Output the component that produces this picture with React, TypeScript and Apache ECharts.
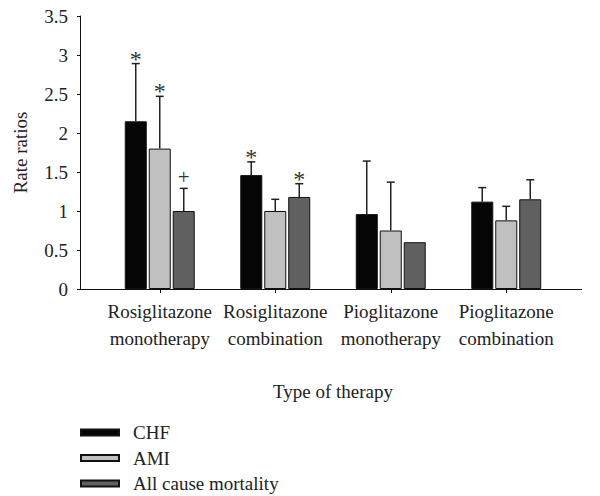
import React, { useEffect, useRef } from "react";
import * as echarts from "echarts";

const categories = [
  "Rosiglitazone\nmonotherapy",
  "Rosiglitazone\ncombination",
  "Pioglitazone\nmonotherapy",
  "Pioglitazone\ncombination",
];
const seriesNames = ["CHF", "AMI", "All cause mortality"];
const chf = [2.15, 1.46, 0.96, 1.12];
const ami = [1.8, 1.0, 0.75, 0.88];
const allCause = [1.0, 1.18, 0.6, 1.15];
const chfUpper = [2.89, 1.63, 1.64, 1.3];
const amiUpper = [2.47, 1.15, 1.37, 1.06];
const allUpper: (number | null)[] = [1.29, 1.35, null, 1.4];
const chfSig = ["*", "*", "", ""];
const amiSig = ["*", "", "", ""];
const allSig = ["+", "*", "", ""];
const yMin = 0;
const yMax = 3.5;
const yInterval = 0.5;

const colors = ["#050505", "#c0c0c0", "#5f605f"];
const FONT = "Liberation Serif";
const FS = 19;

export default function App() {
  const ref = useRef<HTMLDivElement>(null);
  useEffect(() => {
    if (!ref.current) return;
    const chart = echarts.init(ref.current, null, { renderer: "svg" });
    const values = [chf, ami, allCause];
    const uppers = [chfUpper, amiUpper, allUpper];
    const sigs = [chfSig, amiSig, allSig];
    const errItems: { value: number[]; sig: string }[] = [];
    for (let s = 0; s < 3; s++) {
      for (let c = 0; c < categories.length; c++) {
        const up = uppers[s][c];
        if (up == null) continue;
        errItems.push({ value: [c, s, up as number, values[s][c]], sig: sigs[s][c] });
      }
    }
    const barSeries = seriesNames.map((name, i) => ({
      name,
      type: "bar",
      data: values[i],
      barWidth: 22,
      barGap: "9%",
      itemStyle: { color: colors[i], borderColor: "#111", borderWidth: 1 },
      z: 2,
    }));
    chart.setOption({
      animation: false,
      textStyle: { fontFamily: FONT },
      grid: { left: 102, right: 36, top: 16, bottom: 207 },
      xAxis: {
        type: "category",
        data: categories,
        axisLine: { show: false },
        axisTick: { show: true, alignWithLabel: true, length: 4, lineStyle: { color: "#111" } },
        axisLabel: {
          color: "#222",
          fontSize: FS,
          fontFamily: FONT,
          lineHeight: 27,
          margin: 9,
          interval: 0,
        },
        name: "Type of therapy",
        nameLocation: "middle",
        nameGap: 93,
        nameTextStyle: { color: "#222", fontSize: FS, fontFamily: FONT },
      },
      yAxis: {
        type: "value",
        min: yMin,
        max: yMax,
        interval: yInterval,
        offset: 22,
        splitLine: { show: false },
        axisLine: { show: true, lineStyle: { color: "#111" } },
        axisTick: { show: true, length: 3, lineStyle: { color: "#111" } },
        axisLabel: { color: "#222", fontSize: FS, fontFamily: FONT, margin: 12 },
        name: "Rate ratios",
        nameLocation: "middle",
        nameGap: 50,
        nameTextStyle: { color: "#222", fontSize: FS, fontFamily: FONT },
      },
      legend: {
        data: seriesNames,
        orient: "vertical",
        left: 80,
        top: 423,
        padding: 0,
        height: 90,
        itemWidth: 38,
        itemHeight: 6,
        itemGap: 6.5,
        icon: "rect",
        textStyle: { color: "#222", fontSize: FS, fontFamily: FONT, lineHeight: 19, padding: [0, 0, 0, 9] },
      },
      graphic: [
        {
          type: "line",
          shape: { x1: 80, y1: 289.5, x2: 582, y2: 289.5 },
          style: { stroke: "#111", lineWidth: 1 },
          z: 10,
        },
      ],
      series: [
        ...barSeries,
        {
          type: "custom",
          z: 5,
          data: errItems.map((e) => e.value),
          renderItem: (params: any, api: any) => {
            const cat = api.value(0);
            const s = api.value(1);
            const up = api.value(2);
            const base = api.value(3);
            const top = api.coord([cat, up]);
            const bot = api.coord([cat, base]);
            const x = top[0] + (s - 1) * 24;
            const sig = errItems[params.dataIndex].sig;
            const children: any[] = [
              {
                type: "line",
                shape: { x1: x, y1: bot[1], x2: x, y2: top[1] },
                style: { stroke: "#222", lineWidth: 1.5 },
              },
              {
                type: "line",
                shape: { x1: x - 4, y1: top[1], x2: x + 4, y2: top[1] },
                style: { stroke: "#222", lineWidth: 1.5 },
              },
            ];
            if (sig) {
              children.push({
                type: "text",
                style: {
                  text: sig,
                  x: x,
                  y: top[1] - (sig === "*" ? 5 : 11),
                  align: "center",
                  verticalAlign: "middle",
                  fontSize: sig === "*" ? 24 : 21,
                  fontFamily: FONT,
                  fill: "#333",
                },
              });
            }
            return { type: "group", children };
          },
        },
      ],
    });
    return () => chart.dispose();
  }, []);
  return (
    <div
      ref={ref}
      style={{ position: "fixed", left: 0, top: 0, width: 600, height: 496, background: "#fff" }}
    />
  );
}
